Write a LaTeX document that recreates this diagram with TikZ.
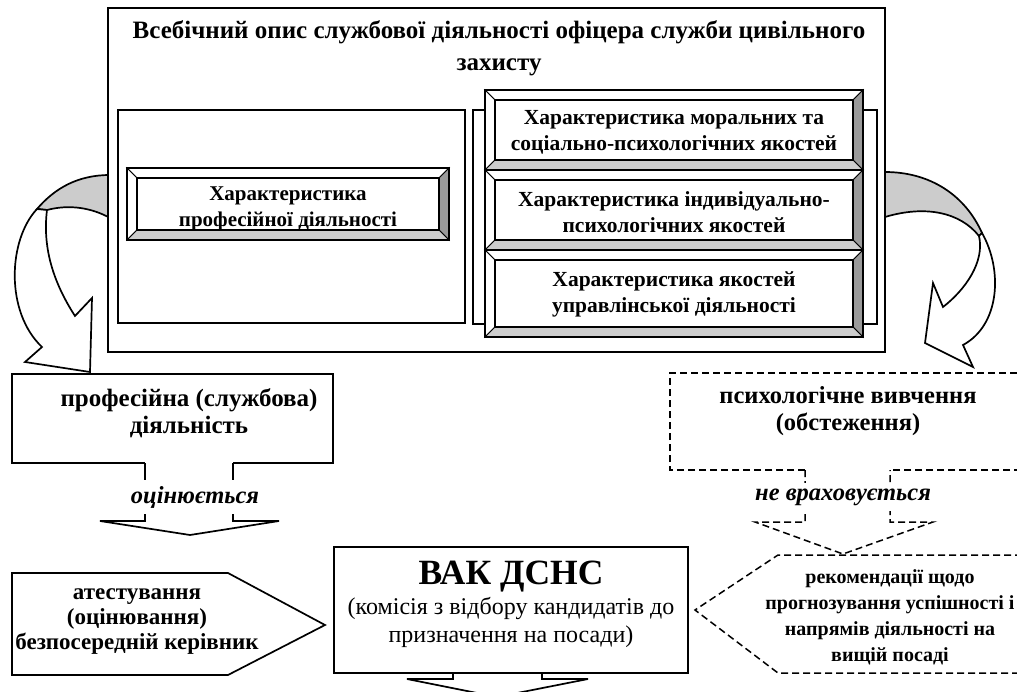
\documentclass[tikz,border=0pt]{standalone}
\usepackage{fontspec}
\setmainfont{Liberation Serif}
\usetikzlibrary{calc}
\definecolor{bevdark}{HTML}{9A9A9A}
\definecolor{bevlight}{HTML}{CDCDCD}
\definecolor{bandgrey}{HTML}{CCCCCC}
% bevelled frame between the corners (#1,#2) and (#3,#4)
\newcommand{\bevelbox}[4]{%
  \filldraw[fill=white, line width=1pt] (#1,#2) -- (#3,#2) -- ({#3-10},{#2+10}) -- ({#1+10},{#2+10}) -- cycle;
  \filldraw[fill=white, line width=1pt] (#1,#2) -- ({#1+10},{#2+10}) -- ({#1+10},{#4-10}) -- (#1,#4) -- cycle;
  \filldraw[fill=bevdark, line width=1pt] (#3,#2) -- (#3,#4) -- ({#3-10},{#4-10}) -- ({#3-10},{#2+10}) -- cycle;
  \filldraw[fill=bevlight, line width=1pt] (#1,#4) -- ({#1+10},{#4-10}) -- ({#3-10},{#4-10}) -- (#3,#4) -- cycle;
  \draw[line width=1.8pt] (#1,#2) rectangle (#3,#4);
  \draw[line width=1.8pt, fill=white] ({#1+10},{#2+10}) rectangle ({#3-10},{#4-10});
}
\newcommand{\fs}[2]{\fontsize{#1}{#2}\selectfont}

\begin{document}
\begin{tikzpicture}[x=1pt, y=-1pt,
  line width=1.7pt,
  txt/.style={font=\bfseries, align=center, inner sep=0pt},
  verb/.style={font=\bfseries\itshape\fs{24.5}{26}, fill=white, inner xsep=4pt, inner ysep=6pt},
  dsh/.style={dash pattern=on 7pt off 4pt, line width=1.5pt}]
 \useasboundingbox (0,0) rectangle (1017,692);
 \clip (0,0) rectangle (1017,692);
 \fill[white] (0,0) rectangle (1017,692);

 % curved arrows behind the frame
 \filldraw[fill=bandgrey] (110,175) .. controls (78,175) and (55,188) .. (37,209) -- (47,210) .. controls (70,204) and (92,208) .. (110,218) -- cycle;
 \filldraw[fill=white] (37,209) .. controls (8,240) and (5,312) .. (42,347) -- (25,362) -- (90,372) -- (92,298) -- (75,316) .. controls (55,285) and (42,250) .. (47,210) -- cycle;
 \filldraw[fill=bandgrey] (885,172) .. controls (930,172) and (965,195) .. (982,233) -- (979,236) .. controls (960,212) and (925,205) .. (885,217) -- cycle;
 \filldraw[fill=white] (982,233) .. controls (1003,270) and (1000,325) .. (963,345) -- (973,367) -- (925,343) -- (933,283) -- (943,307) .. controls (965,290) and (985,262) .. (979,236) -- cycle;

 % description frame
 \draw[fill=white, line width=2pt] (108,8) rectangle (885,352);
 \node[txt, font=\bfseries\fs{25}{32}] (descr) at (499,48) {Всебічний опис службової діяльності офіцера служби цивільного\\захисту};
 \draw (118,110) rectangle (465,323);
 \draw (473,110) rectangle (877,324);
 \bevelbox{127}{168}{449}{240}
 \node[txt, font=\bfseries\fs{21}{26}] (prof char) at (288,209) {Характеристика\\професійної діяльності};
 \bevelbox{485}{90}{863}{170}
 \bevelbox{485}{170}{863}{250}
 \bevelbox{485}{250}{863}{337}
 \node[txt, font=\bfseries\fs{21.5}{26}] (moral) at (674,132) {Характеристика моральних та\\соціально-психологічних якостей};
 \node[txt, font=\bfseries\fs{21.5}{26}] (indiv) at (674,212) {Характеристика індивідуально-\\психологічних якостей};
 \node[txt, font=\bfseries\fs{21.5}{26}] (manag) at (674,294) {Характеристика якостей\\управлінської діяльності};

 % professional activity and its block arrow
 \draw (145,463) -| (12,374) -| (333,463) -- (233,463);
 \node[txt, font=\bfseries\fs{25}{27}] (activity) at (189,413) {професійна (службова)\\діяльність};
 \draw (145,463) -- (145,521) -- (100,521) -- (190,535) -- (279,521) -- (233,521) -- (233,463);
 \node[verb] (rated) at (195,497) {оцінюється};

 % psychological study and its dashed block arrow
 \draw[dsh] (805,470) -| (670,373) -| (1022,470) -- (890,470);
 \node[txt, font=\bfseries\fs{24.5}{27}] (psych) at (848,411) {психологічне вивчення\\(обстеження)};
 \draw[dsh] (805,470) -- (805,522) -- (755,522) -- (843,554) -- (933,522) -- (890,522) -- (890,470);
 \node[verb] (ignored) at (843,497) {не враховується};

 % recommendations
 \draw[dsh] (1022,555) -- (778,555) -- (695,610) -- (778,673) -- (1022,673);
 \node[txt, font=\bfseries\fs{20}{26}] (recom) at (890,617) {рекомендації щодо\\прогнозування успішності і\\напрямів діяльності на\\вищій посаді};

 % commission
 \draw[line width=2pt] (334,547) rectangle (688,673);
 \node[font=\bfseries\fs{35.5}{36}, inner sep=0pt] (vak) at (511,577) {ВАК ДСНС};
 \node[font=\fs{24}{28}, align=center, inner sep=0pt] (commis) at (511,622) {(комісія з відбору кандидатів до\\призначення на посади)};
 \draw (453,673) -- (453,679) -- (407,679) -- (497,697) -- (588,679) -- (542,679) -- (542,673);

 % attestation
 \draw (12,573) -- (228,573) -- (325,625) -- (228,675) -- (12,675) -- cycle;
 \node[txt, font=\bfseries\fs{23}{25}] (attest) at (137,622) {атестування\\(оцінювання)\\безпосередній керівник};
\end{tikzpicture}
\end{document}
